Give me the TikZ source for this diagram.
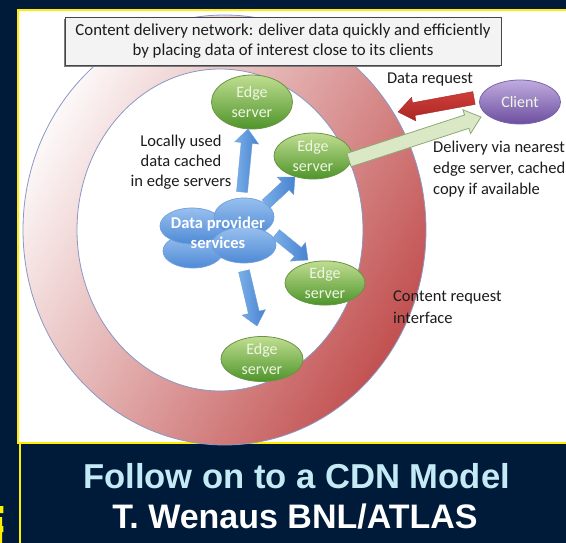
\documentclass[tikz,border=0pt]{standalone}
\usepackage{fontspec}
\setmainfont{Carlito}
\newfontfamily\headfont{Liberation Sans}
\usetikzlibrary{calc,shapes.geometric}

\definecolor{navy}{RGB}{0,27,57}
\definecolor{frameyellow}{RGB}{255,238,0}
\definecolor{ringlight}{RGB}{253,249,249}
\definecolor{ringmid}{RGB}{236,198,198}
\definecolor{ringdark}{RGB}{194,80,80}
\definecolor{ringline}{RGB}{138,152,196}
\definecolor{boxfill}{RGB}{243,243,243}
\definecolor{boxline}{RGB}{70,70,70}
\definecolor{boxshadow}{RGB}{125,125,125}
\definecolor{edgetop}{RGB}{192,222,145}
\definecolor{edgebot}{RGB}{78,148,42}
\definecolor{edgeline}{RGB}{105,148,68}
\definecolor{edgetext}{RGB}{240,246,228}
\definecolor{clienttop}{RGB}{192,172,222}
\definecolor{clientbot}{RGB}{108,78,160}
\definecolor{clientline}{RGB}{120,100,170}
\definecolor{cloudtop}{RGB}{152,192,238}
\definecolor{cloudbot}{RGB}{78,138,214}
\definecolor{cloudline}{RGB}{112,160,220}
\definecolor{arrowtop}{RGB}{122,176,232}
\definecolor{arrowbot}{RGB}{72,130,208}
\definecolor{reqtop}{RGB}{206,62,56}
\definecolor{reqbot}{RGB}{170,38,38}
\definecolor{delfill}{RGB}{218,232,198}
\definecolor{delline}{RGB}{140,170,118}
\definecolor{textdark}{RGB}{28,28,28}
\definecolor{titleblue}{RGB}{196,234,245}

% block arrow: style, from, to, half shaft width, half head width, head length
\newcommand\blockarrow[6]{%
  \coordinate (ba-h) at ($(#3)!#6!(#2)$);
  \path[#1] ($(#2)!#4!90:(#3)$) -- ($(ba-h)!#4!90:(#3)$) -- ($(ba-h)!#5!90:(#3)$)
    -- (#3) -- ($(ba-h)!#5!-90:(#3)$) -- ($(ba-h)!#4!-90:(#3)$)
    -- ($(#2)!#4!-90:(#3)$) -- cycle;
}

\begin{document}
\begin{tikzpicture}[x=1pt,y=-1pt,
  every node/.style={inner sep=0pt},
  lbl/.style={text=textdark, font=\fontsize{16.5}{20}\selectfont},
  edgesrv/.style={ellipse, draw=edgeline, line width=0.8pt, top color=edgetop,
    bottom color=edgebot, text=edgetext, align=center,
    font=\fontsize{16}{20}\selectfont},
  cloudpart/.style={draw=cloudline, line width=0.7pt, top color=cloudtop, bottom color=cloudbot},
  bluearrow/.style={left color=arrowtop, right color=arrowbot, draw=cloudline, line width=0.4pt},
  reqarrow/.style={top color=reqtop, bottom color=reqbot, draw=reqbot, line width=0.4pt},
  delarrow/.style={fill=delfill, draw=delline, line width=0.8pt},
]
\clip (0,0) rectangle (566,543);
\fill[navy] (0,0) rectangle (566,543);

% slide panel and its frame
\fill[white] (18,10) rectangle (572,443);
\draw[frameyellow, line width=2.4pt] (18,10) rectangle (572,443);
\draw[frameyellow, line width=2pt] (20.3,444) -- (20.3,546);
\fill[frameyellow] (0,506) rectangle (3.3,513) (0,517) rectangle (2,543) (0,526) rectangle (3.3,532);

% content request interface ring
\shade[even odd rule, top color=ringlight, middle color=ringmid, bottom color=ringdark, shading angle=60]
  (224.5,230) ellipse [x radius=201.5, y radius=215]
  (220,230) ellipse [x radius=143, y radius=161];
\draw[ringline, line width=0.8pt] (224.5,230) ellipse [x radius=201.5, y radius=215];
\draw[ringline, line width=0.8pt] (220,230) ellipse [x radius=143, y radius=161];

% heading box
\fill[boxshadow] (63.5,19) rectangle (499.5,67);
\node[draw=boxline, line width=0.8pt, fill=boxfill, minimum width=436pt, minimum height=48pt,
  align=center, text=textdark, font=\fontsize{16.8}{20}\selectfont] (cdn) at (283,41)
  {Content delivery network: deliver data quickly and efficiently\\by placing data of interest close to its clients};

% data provider cloud
\path[cloudpart] (193,251) ellipse [x radius=30, y radius=17];
\path[cloudpart] (192,226) ellipse [x radius=32, y radius=18];
\path[cloudpart] (244,217) ellipse [x radius=30, y radius=19];
\path[cloudpart] (244,245) ellipse [x radius=32, y radius=18];
\node[text=white, align=center, font=\bfseries\fontsize{16.5}{20}\selectfont] (dps) at (218,233)
  {Data provider\\services};

% edge servers and client
\node[edgesrv, minimum width=81pt, minimum height=54pt] (e1) at (252,102) {Edge\\server};
\node[edgesrv, minimum width=78pt, minimum height=46pt] (e2) at (313,156) {Edge\\server};
\node[edgesrv, minimum width=80pt, minimum height=44pt] (e3) at (325,283) {Edge\\server};
\node[edgesrv, minimum width=82pt, minimum height=45pt] (e4) at (262,359) {Edge\\server};
\node[ellipse, draw=clientline, line width=0.8pt, top color=clienttop, bottom color=clientbot,
  minimum width=81pt, minimum height=44pt, text=edgetext, font=\fontsize{16}{20}\selectfont]
  (client) at (520,102) {Client};

% caching arrows from the providers to the edge servers
\coordinate (up-s) at (242,192);  \coordinate (up-e) at (248,129);
\coordinate (ne-s) at (266,204);  \coordinate (ne-e) at (295,177);
\coordinate (se-s) at (276,234);  \coordinate (se-e) at (308,260);
\coordinate (dn-s) at (244,271);  \coordinate (dn-e) at (257,326);
\blockarrow{bluearrow}{up-s}{up-e}{5.5pt}{12pt}{14pt}
\blockarrow{bluearrow}{ne-s}{ne-e}{5.5pt}{12pt}{13pt}
\blockarrow{bluearrow}{se-s}{se-e}{5.5pt}{12pt}{13pt}
\blockarrow{bluearrow}{dn-s}{dn-e}{5.5pt}{12pt}{14pt}

% request and delivery
\coordinate (req-s) at (474,98);   \coordinate (req-e) at (398,112);
\coordinate (del-s) at (349,160);  \coordinate (del-e) at (481,117);
\blockarrow{reqarrow}{req-s}{req-e}{6.5pt}{12pt}{16pt}
\blockarrow{delarrow}{del-s}{del-e}{7pt}{12.5pt}{15pt}

% labels
\node[lbl, align=center] (local) at (181,162) {Locally used\\data cached\\in edge servers};
\node[lbl] (dreq) at (430,80) {Data request};
\node[lbl, align=left, anchor=west, font=\fontsize{16.5}{21}\selectfont] (deliv) at (433,169)
  {Delivery via nearest\\edge server, cached\\copy if available};
\node[lbl, align=left, anchor=west, font=\fontsize{16.5}{22}\selectfont] (cri) at (393,307)
  {Content request\\interface};

% slide title
\node[anchor=base, text=titleblue, font=\headfont\bfseries\fontsize{34.6}{40}\selectfont] (t1) at (296.5,488)
  {Follow on to a CDN Model};
\node[anchor=base, text=white, font=\headfont\bfseries\fontsize{34}{40}\selectfont] (t2) at (295,528)
  {T. Wenaus BNL/ATLAS};
\end{tikzpicture}
\end{document}
